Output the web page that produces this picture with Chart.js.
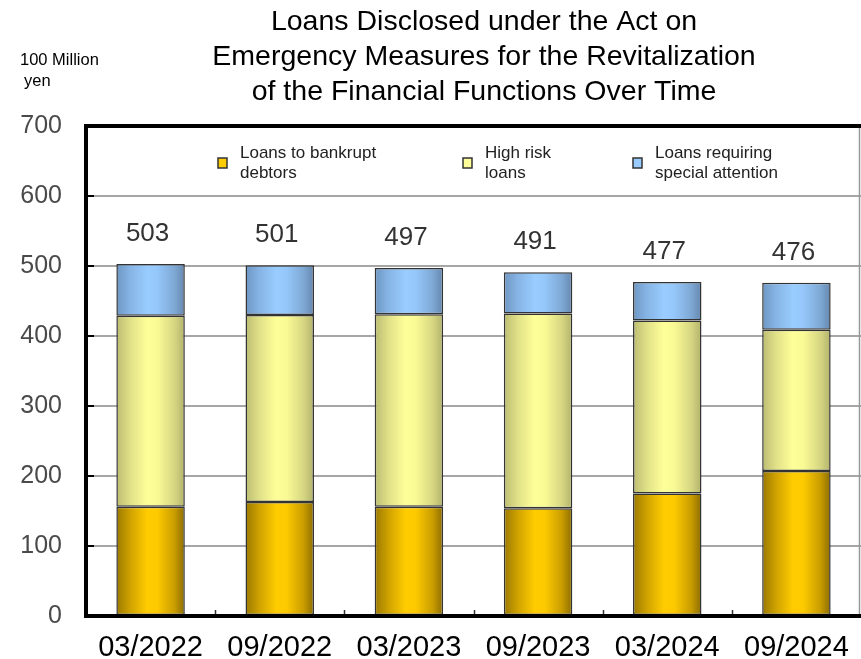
<!DOCTYPE html>
<html>
<head>
<meta charset="utf-8">
<title>Loans Disclosed under the Act on Emergency Measures</title>
<script src="https://cdn.jsdelivr.net/npm/chart.js@4.4.1/dist/chart.umd.min.js"></script>
<style>
  html, body { margin: 0; padding: 0; background: #fff; }
  #wrap { width: 861px; height: 659px; }
</style>
</head>
<body>
<div id="wrap"><canvas id="loansChart" width="861" height="659"></canvas></div>
<script>
// half-year periods along the x axis
const periods = ['03/2022', '09/2022', '03/2023', '09/2023', '03/2024', '09/2024'];

// amounts in 100 million yen, stacked from the bottom up
const bankrupt = [156, 163, 156, 154, 175, 207];
const highRisk = [273, 267, 275, 278, 247, 202];
const specialAttention = [74, 71, 66, 59, 55, 67];

const seriesNames = [
  ['Loans to bankrupt', 'debtors'],
  ['High risk', 'loans'],
  ['Loans requiring', 'special attention']
];

const yTicks = [0, 100, 200, 300, 400, 500, 600, 700];

const titleLines = [
  'Loans Disclosed under the Act on',
  'Emergency Measures for the Revitalization',
  'of the Financial Functions Over Time'
];
const unitLines = ['100 Million', 'yen'];

const FONT = "'Liberation Sans', Arial, Helvetica, sans-serif";
const BAR_PCT = 0.53;

// cylinder-style shading across each bar
const shades = {
  gold:   ['#9a7800', '#cfa200', '#ffcc00', '#fdca00', '#c99c00', '#8c6c00'],
  yellow: ['#bcbc72', '#e0e088', '#ffff99', '#fafa95', '#d6d682', '#b2b26c'],
  blue:   ['#6e96c3', '#86b4e4', '#99ccff', '#95c7fa', '#7ea8d4', '#6587ae']
};
const shadeStops = [0, 0.2, 0.45, 0.6, 0.85, 1];

function barFill(colors) {
  return (ctx) => {
    const chart = ctx.chart;
    const xs = chart.scales && chart.scales.x;
    if (!xs || ctx.dataIndex === undefined || !chart.chartArea) return colors[2];
    const cx = xs.getPixelForValue(ctx.dataIndex);
    const half = xs.width / periods.length * BAR_PCT / 2;
    const g = chart.ctx.createLinearGradient(cx - half, 0, cx + half, 0);
    colors.forEach((c, i) => g.addColorStop(shadeStops[i], c));
    return g;
  };
}

// title, unit caption, legend, axis frame and stack totals
const decorations = {
  id: 'decorations',
  afterDatasetsDraw(chart) {
    const ctx = chart.ctx;
    const area = chart.chartArea;
    const ys = chart.scales.y;
    ctx.save();

    // inward tick marks on the left axis
    ctx.strokeStyle = '#000';
    ctx.lineWidth = 2;
    yTicks.forEach(v => {
      const y = Math.round(ys.getPixelForValue(v));
      ctx.beginPath();
      ctx.moveTo(area.left, y);
      ctx.lineTo(area.left + 8, y);
      ctx.stroke();
    });
    // small marks between categories on the bottom axis
    ctx.lineWidth = 1.5;
    ctx.strokeStyle = '#333';
    const cw = (area.right - area.left) / periods.length;
    for (let k = 1; k < periods.length; k++) {
      const x = Math.round(area.left + k * cw) + 0.5;
      ctx.beginPath();
      ctx.moveTo(x, area.bottom);
      ctx.lineTo(x, area.bottom - 6);
      ctx.stroke();
    }

    // frame: thick black left, bottom and top; thin grey right
    const rightX = chart.width - 1.5;
    ctx.strokeStyle = '#999';
    ctx.lineWidth = 1.5;
    ctx.beginPath();
    ctx.moveTo(rightX, area.top);
    ctx.lineTo(rightX, area.bottom);
    ctx.stroke();
    ctx.strokeStyle = '#000';
    ctx.lineWidth = 4;
    ctx.beginPath();
    ctx.moveTo(area.left, area.top);
    ctx.lineTo(chart.width, area.top);
    ctx.moveTo(area.left, area.top - 2);
    ctx.lineTo(area.left, area.bottom + 2);
    ctx.moveTo(area.left - 2, area.bottom);
    ctx.lineTo(chart.width, area.bottom);
    ctx.stroke();

    // totals above each stack
    const topMeta = chart.getDatasetMeta(chart.data.datasets.length - 1);
    ctx.fillStyle = '#333';
    ctx.font = '26px ' + FONT;
    ctx.textAlign = 'center';
    ctx.textBaseline = 'middle';
    periods.forEach((p, i) => {
      const total = bankrupt[i] + highRisk[i] + specialAttention[i];
      const bar = topMeta.data[i];
      ctx.fillText(String(total), bar.x - 3, bar.y - 30);
    });

    // legend inside the plot
    const legendX = [218, 463, 633];
    const swatch = [shades.gold[2], shades.yellow[2], shades.blue[2]];
    ctx.font = '17px ' + FONT;
    ctx.textAlign = 'left';
    seriesNames.forEach((lines, i) => {
      const x = legendX[i];
      ctx.fillStyle = swatch[i];
      ctx.fillRect(x, 158, 9, 10);
      ctx.strokeStyle = '#333';
      ctx.lineWidth = 1.5;
      ctx.strokeRect(x, 158, 9, 10);
      ctx.fillStyle = '#222';
      ctx.fillText(lines[0], x + 22, 153);
      ctx.fillText(lines[1], x + 22, 173);
    });

    // chart title
    ctx.fillStyle = '#000';
    ctx.font = '28.5px ' + FONT;
    ctx.textAlign = 'center';
    titleLines.forEach((t, i) => ctx.fillText(t, 484, 22 + i * 35));

    // unit caption
    ctx.font = '16.5px ' + FONT;
    ctx.textAlign = 'left';
    ctx.fillText(unitLines[0], 20, 60);
    ctx.fillText(unitLines[1], 24, 81);

    ctx.restore();
  }
};

const barBorder = { borderColor: '#333', borderWidth: 1.5, borderSkipped: false };

new Chart(document.getElementById('loansChart'), {
  type: 'bar',
  data: {
    labels: periods,
    datasets: [
      Object.assign({ label: seriesNames[0].join(' '), data: bankrupt, backgroundColor: barFill(shades.gold) }, barBorder),
      Object.assign({ label: seriesNames[1].join(' '), data: highRisk, backgroundColor: barFill(shades.yellow) }, barBorder),
      Object.assign({ label: seriesNames[2].join(' '), data: specialAttention, backgroundColor: barFill(shades.blue) }, barBorder)
    ]
  },
  options: {
    responsive: false,
    animation: false,
    layout: { padding: { top: 126, right: -2, left: 0, bottom: 0 } },
    datasets: { bar: { categoryPercentage: 1, barPercentage: BAR_PCT } },
    plugins: {
      legend: { display: false },
      title: { display: false },
      tooltip: { enabled: false }
    },
    scales: {
      x: {
        stacked: true,
        offset: true,
        grid: { display: false, drawTicks: false },
        border: { display: false },
        ticks: { color: '#000', font: { family: FONT, size: 29 }, padding: 15, maxRotation: 0, autoSkip: false },
        afterFit(scale) {
          scale.height = 43;
          scale.paddingLeft = 0;
          scale.paddingRight = 0;
        }
      },
      y: {
        stacked: true,
        min: 0,
        max: 700,
        afterBuildTicks(scale) { scale.ticks = yTicks.map(v => ({ value: v })); },
        grid: { color: '#a6a6a6', lineWidth: 2, drawTicks: false },
        border: { display: false },
        ticks: { color: '#4a4a4a', font: { family: FONT, size: 25 }, padding: 24 },
        afterFit(scale) { scale.width = 86; }
      }
    }
  },
  plugins: [decorations]
});
</script>
</body>
</html>
